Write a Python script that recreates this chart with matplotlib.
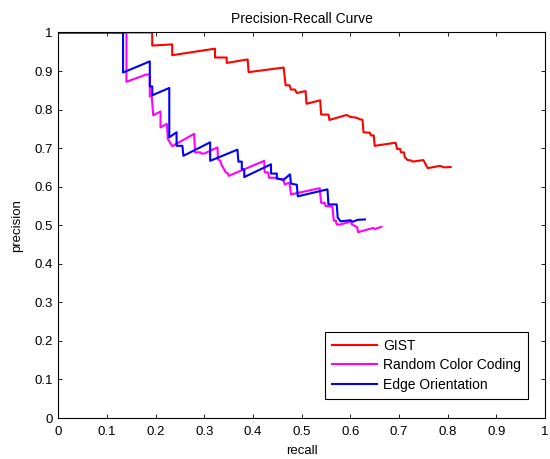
import matplotlib.pyplot as plt

plt.rcParams['font.family'] = ['Liberation Sans', 'DejaVu Sans']

# precision / recall vertices for each descriptor
gist_recall = [0, 0.193, 0.193, 0.234, 0.234, 0.322, 0.322, 0.346, 0.346, 0.389, 0.391,
               0.463, 0.467, 0.475, 0.478, 0.486, 0.490, 0.508, 0.510, 0.538, 0.540,
               0.555, 0.557, 0.592, 0.600, 0.612, 0.620, 0.625, 0.627, 0.640, 0.642,
               0.648, 0.650, 0.693, 0.696, 0.702, 0.704, 0.710, 0.712, 0.718, 0.725,
               0.728, 0.750, 0.759, 0.784, 0.793, 0.806]
gist_prec = [1, 1, 0.966, 0.969, 0.941, 0.958, 0.935, 0.935, 0.921, 0.930, 0.897,
             0.909, 0.863, 0.863, 0.852, 0.852, 0.843, 0.848, 0.815, 0.824, 0.787,
             0.787, 0.773, 0.786, 0.781, 0.779, 0.775, 0.773, 0.741, 0.740, 0.733,
             0.733, 0.706, 0.714, 0.698, 0.698, 0.689, 0.689, 0.676, 0.669, 0.668,
             0.665, 0.669, 0.648, 0.654, 0.650, 0.651]

rcc_recall = [0, 0.140, 0.140, 0.181, 0.188, 0.188, 0.192, 0.195, 0.210, 0.210, 0.223,
              0.225, 0.230, 0.234, 0.279, 0.281, 0.292, 0.294, 0.300, 0.327, 0.328,
              0.333, 0.335, 0.344, 0.348, 0.350, 0.423, 0.424, 0.431, 0.433, 0.447,
              0.450, 0.462, 0.465, 0.475, 0.478, 0.537, 0.540, 0.547, 0.549, 0.563,
              0.566, 0.570, 0.572, 0.580, 0.602, 0.603, 0.614, 0.616, 0.647, 0.650, 0.664]
rcc_prec = [1, 1, 0.872, 0.891, 0.891, 0.834, 0.834, 0.785, 0.795, 0.754, 0.763,
            0.724, 0.713, 0.705, 0.737, 0.689, 0.689, 0.686, 0.686, 0.702, 0.671,
            0.667, 0.658, 0.637, 0.635, 0.628, 0.667, 0.637, 0.637, 0.623, 0.623,
            0.620, 0.620, 0.606, 0.610, 0.580, 0.596, 0.558, 0.558, 0.550, 0.548,
            0.512, 0.512, 0.502, 0.502, 0.510, 0.502, 0.495, 0.482, 0.493, 0.490, 0.496]

edge_recall = [0, 0.133, 0.133, 0.188, 0.188, 0.193, 0.193, 0.228, 0.228, 0.243, 0.243,
               0.255, 0.257, 0.312, 0.312, 0.368, 0.370, 0.377, 0.377, 0.382, 0.382,
               0.437, 0.437, 0.449, 0.449, 0.462, 0.476, 0.478, 0.490, 0.492, 0.553,
               0.555, 0.572, 0.574, 0.580, 0.600, 0.605, 0.615, 0.630]
edge_prec = [1, 1, 0.896, 0.925, 0.860, 0.860, 0.837, 0.856, 0.728, 0.741, 0.706,
             0.706, 0.680, 0.715, 0.667, 0.696, 0.665, 0.665, 0.645, 0.645, 0.625,
             0.658, 0.634, 0.634, 0.622, 0.617, 0.632, 0.608, 0.605, 0.575, 0.593,
             0.554, 0.554, 0.520, 0.510, 0.513, 0.509, 0.514, 0.515]

ticks = [0, 0.1, 0.2, 0.3, 0.4, 0.5, 0.6, 0.7, 0.8, 0.9, 1]
tick_labels = ['0', '0.1', '0.2', '0.3', '0.4', '0.5', '0.6', '0.7', '0.8', '0.9', '1']

fig = plt.figure(figsize=(5.5, 4.59), dpi=100)
ax = fig.add_axes([0.106, 0.0893, 0.885, 0.840])

ax.plot(gist_recall, gist_prec, color='#ff0000', lw=1.5, label='GIST')
ax.plot(rcc_recall, rcc_prec, color='#ff00ff', lw=1.5, label='Random Color Coding')
ax.plot(edge_recall, edge_prec, color='#0000ff', lw=1.5, label='Edge Orientation')

ax.set_xlim(0, 1)
ax.set_ylim(0, 1)
ax.set_xticks(ticks)
ax.set_xticklabels(tick_labels)
ax.set_yticks(ticks)
ax.set_yticklabels(tick_labels)
ax.tick_params(direction='in', top=True, right=True, labelsize=9.5, length=3, width=0.6)
ax.tick_params(axis='x', pad=6)
ax.tick_params(axis='y', pad=4)
for s in ax.spines.values():
    s.set_linewidth(0.8)

ax.set_xlabel('recall', fontsize=9.5, labelpad=5)
ax.set_ylabel('precision', fontsize=9.5, labelpad=8)
ax.set_title('Precision-Recall Curve', fontsize=10, pad=7)

leg = ax.legend(loc='lower right', bbox_to_anchor=(0.9645, 0.049), borderaxespad=0,
                fancybox=False, edgecolor='black', fontsize=10, handlelength=3.3,
                handletextpad=0.4, framealpha=1, borderpad=0.5, labelspacing=0.42)
leg.get_frame().set_linewidth(0.8)

fig.savefig('out.png', dpi=100)
